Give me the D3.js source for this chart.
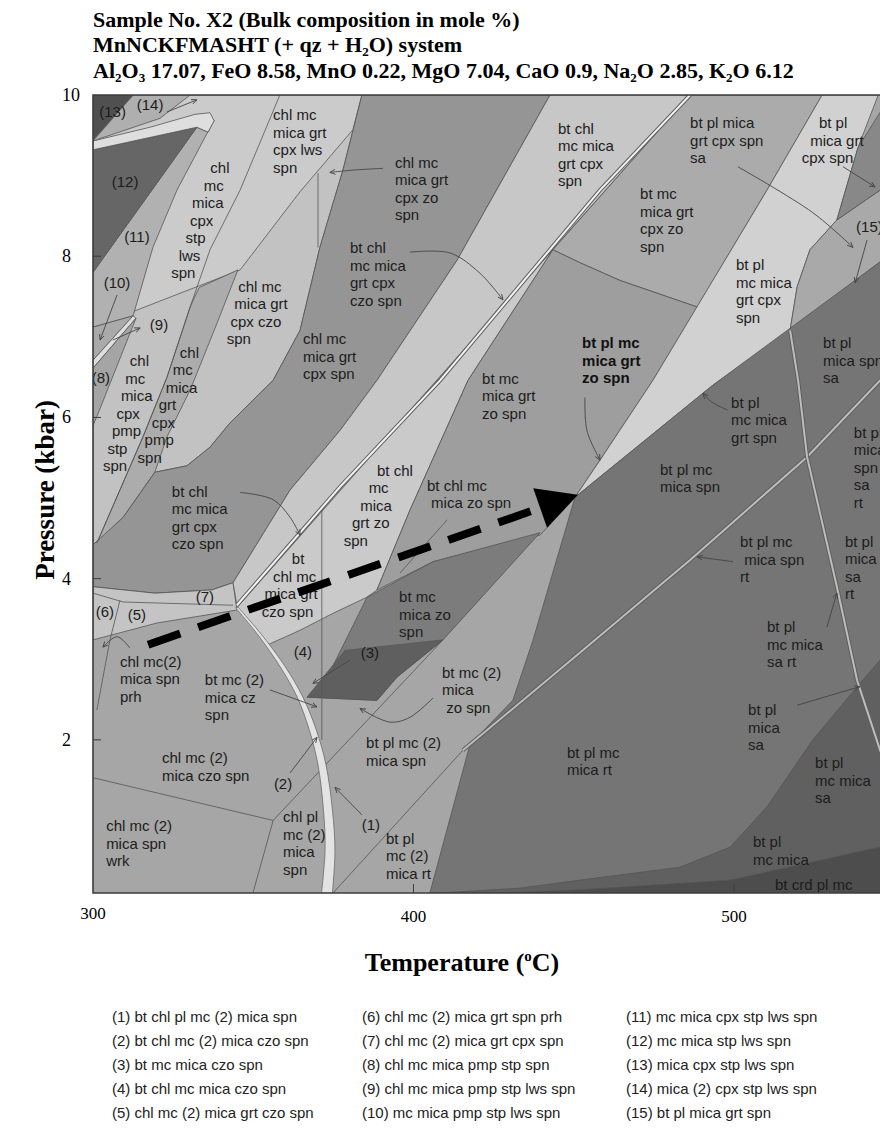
<!DOCTYPE html>
<html>
<head>
<meta charset="utf-8">
<script src="https://cdn.jsdelivr.net/npm/d3@7"></script>
<style>
  body { margin: 0; background: #fff; }
</style>
</head>
<body>
<div id="chart"></div>
<script>
// ---- data (temperature in °C, pressure in kbar) ----
const tempTicks = [300, 400, 500];
const pressTicks = [2, 4, 6, 8, 10];

// field polygons, painted in this order
const fieldPolys = [
  ["base", [[300,10],[550,10],[550,0.1],[300,0.1]]],
  ["leftLight", [[300,10],[383.9,10],[378.0,9.07],[370.8,8.11],[364.6,7.08],[356.2,6.46],[342.7,5.93],[336.5,5.63],[329.3,5.40],[319.3,5.32],[309.4,4.76],[300,4.42]]],
  ["upperLight", [[300,7.12],[345.9,7.83],[364.6,8.80],[381.1,9.57],[383.9,10],[300,10]]],
  ["pmpStrip", [[333.1,7.61],[345.2,7.83],[338.7,7.17],[330.3,6.34],[323.1,5.76],[319.3,5.32],[309.4,4.76],[301.2,4.44],[308.4,5.10],[315.6,5.76],[323.1,6.50],[330.3,7.37]]],
  ["f11", [[332.4,9.60],[335.9,9.54],[337.8,9.69],[326.2,8.82],[318.7,8.11],[312.5,7.26],[300,7.12],[300,7.80]]],
  ["f10", [[300,7.12],[312.5,7.26],[300,6.71]]],
  ["f9", [[300,6.71],[312.5,7.26],[313.4,7.23],[300,6.61]]],
  ["f8", [[300,6.61],[313.4,7.23],[301.2,6.01],[300,5.90]]],
  ["f12", [[300,9.32],[332.4,9.60],[300,7.80]]],
  ["wrap", [[300,9.43],[317.8,9.60],[331.8,9.76],[336.5,9.78],[337.8,9.68],[335.9,9.54],[332.4,9.60],[300,9.32]]],
  ["f14", [[312.5,10],[330.3,10],[320.9,9.71],[300,9.43]]],
  ["f13", [[300,10],[312.5,10],[300,9.44]]],
  ["darkBand", [[300,4.42],[309.4,4.76],[319.3,5.32],[329.3,5.40],[336.5,5.63],[342.7,5.93],[356.2,6.46],[364.6,7.08],[370.8,8.11],[378.0,9.07],[383.9,10],[442.6,10],[413.6,7.95],[388.6,6.46],[377.1,5.84],[361.5,5.10],[343.7,3.95],[337.1,3.86],[319.3,3.82],[300,3.90]]],
  ["strip56", [[300,3.90],[319.3,3.82],[337.1,3.86],[343.7,3.95],[344.9,3.61],[320.0,3.45],[300,3.24]]],
  ["lightBand", [[442.6,10],[486.3,10],[344.9,3.67],[343.7,3.95],[361.5,5.10],[377.1,5.84],[388.6,6.46],[413.6,7.95]]],
  ["wedge", [[443.5,8.08],[417.0,6.46],[398.9,4.85],[388.6,3.86],[385.5,3.77],[374.9,3.57],[364.6,3.36],[354.6,3.18],[344.9,3.64]]],
  ["cpxZo", [[486.3,10],[527.5,10],[510.3,8.82],[488.5,7.37],[464.4,7.70],[451.9,7.92],[443.5,8.08]]],
  ["grtZo", [[443.5,8.08],[451.9,7.92],[464.4,7.70],[488.5,7.37],[474.7,6.46],[458.2,5.47],[450.4,5.01],[439.5,4.54],[406.1,4.21],[388.6,3.86],[398.9,4.85],[417.0,6.46]]],
  ["paleBand", [[527.5,10],[545.0,10],[538.7,9.35],[532.1,8.45],[523.7,8.08],[519.7,7.62],[517.5,7.08],[493.4,6.40],[450.4,5.01],[458.2,5.47],[474.7,6.46],[510.3,8.82]]],
  ["f15", [[532.1,8.45],[545.6,8.82],[550,8.87],[550,8.06],[545.6,7.93],[517.5,7.08],[519.7,7.62],[523.7,8.08]]],
  ["rightTop", [[547.1,9.88],[538.7,9.35],[532.1,8.45],[545.6,8.82],[550,8.87],[550,9.9]]],
  ["lowerRight", [[450.4,5.01],[493.4,6.40],[545.6,7.93],[550,8.06],[550,0.1],[405.1,0.1],[417.6,1.94],[431.0,2.49],[437.3,3.24]]],
  ["bottomDark", [[408.3,0.1],[433.2,0.16],[451.9,0.26],[483.1,0.42],[498.8,0.67],[510.3,1.17],[524.6,2.0],[539.3,2.70],[545.6,2.99],[550,3.1],[550,0.1]]],
  ["bottomDarkest", [[427.0,0.1],[451.9,0.14],[498.8,0.26],[545.6,0.67],[550,0.72],[550,0.1]]],
  ["zoDark", [[366.8,2.53],[373.9,2.84],[385.5,3.77],[406.1,4.21],[439.5,4.57],[409.2,3.24],[394.9,2.78],[388.6,2.49]]],
  ["f3", [[366.8,2.53],[378.6,3.11],[409.2,3.24],[394.9,2.78],[388.6,2.49]]]
];

// grey level of each field
const fieldShade = {
  base: "#a6a6a6", leftLight: "#c2c2c2", upperLight: "#cbcbcb", pmpStrip: "#acacac",
  f11: "#b1b1b1", f10: "#aaaaaa", f9: "#dedede", f8: "#a5a5a5",
  f12: "#666666", wrap: "#dedede", f14: "#afafaf", f13: "#505050",
  darkBand: "#959595", strip56: "#c4c4c4", lightBand: "#c7c7c7", wedge: "#cacaca",
  cpxZo: "#ababab", grtZo: "#9e9e9e", paleBand: "#d1d1d1", f15: "#a9a9a9", rightTop: "#888888",
  lowerRight: "#757575", bottomDark: "#606060", bottomDarkest: "#4d4d4d",
  zoDark: "#7c7c7c", f3: "#5f5f5f"
};

// extra thin boundaries
const thinLines = [
  [[371.4,4.85],[371.4,2.0]],
  [[370.2,9.03],[370.2,8.11]],
  [[358.3,10],[345.9,8.82],[336.5,8.08],[330.3,7.37],[323.1,6.50],[315.6,5.76],[308.4,5.10],[301.2,4.44]],
  [[300,1.53],[356.2,1.0],[409.2,3.24]],
  [[356.2,1.0],[349.9,0.1]],
  [[374.9,0.1],[415.4,1.87]],
  [[308.4,3.73],[305.3,3.24],[301.2,2.37]],
  [[300,3.82],[309.4,3.71],[343.7,3.67]],
  [[410.5,4.73],[395.8,4.07]]
];

// double reaction lines: bright one, then two paler ones
const whiteLines = [
  [[344.9,3.67],[377.1,5.14],[408.3,6.46],[458.2,8.82],[486.3,10]]
];
const paleLines = [
  [[415.4,1.87],[451.9,3.08],[486.3,4.23],[522.8,5.51],[545.6,6.46],[550,6.55]],
  [[517.5,7.08],[520.0,6.46],[522.8,5.51],[532.1,3.90],[538.4,2.74],[545.6,1.87],[550,1.45]]
];

// curved pale band: left edge then right edge
const arcLeft = [[344.5,3.64],[351.5,3.30],[358.5,2.90],[363.7,2.53],[367.5,2.12],[370.2,1.69],[371.9,1.13],[372.4,0.63],[371.3,0.1]];
const arcRight = [[345.4,3.64],[352.7,3.30],[360.1,2.90],[365.5,2.53],[369.7,2.12],[372.7,1.69],[374.7,1.13],[375.5,0.63],[374.7,0.1]];

// leader arrows from labels to small fields
const leaders = [
  [[307.5,7.52],[302.2,6.96]],
  [[306.2,6.96],[314.7,7.11]],
  [[390.5,9.09],[381.7,9.07],[373.9,9.04]],
  [[398.9,8.05],[411.4,8.04],[420.7,7.79],[427.9,7.46]],
  [[345.9,5.07],[356.2,4.98],[361.5,4.76],[364.6,4.54]],
  [[501.2,9.11],[524.6,8.54],[537.1,8.11]],
  [[534.0,9.11],[544.0,8.86]],
  [[541.5,8.20],[537.8,7.67]],
  [[453.5,6.25],[454.1,5.84],[458.2,5.47]],
  [[498.1,6.09],[493.1,6.19],[490.3,6.30]],
  [[499.7,4.21],[488.5,4.27]],
  [[529.0,3.40],[532.1,3.82]],
  [[406.1,2.52],[398.9,2.28],[392.7,2.22],[383.3,2.39]],
  [[383.9,1.07],[375.5,1.41]],
  [[361.5,1.59],[369.9,2.03]],
  [[355.2,2.62],[369.9,2.41]],
  [[380.2,2.99],[368.6,2.70]],
  [[311.5,3.14],[307.5,3.28],[303.1,3.15]],
  [[519.7,2.43],[539.3,2.66]],
  [[323.1,9.79],[332.4,9.94]]
];

// P-T path (start, tip)
const ptPath = [[317.2,3.18],[451.3,5.04]];

// field labels: T, P of first line, lines, anchor, shift per line (°C)
const fieldLabels = [
  [306.1,9.79,["(13)"],"middle",0],
  [317.8,9.88,["(14)"],"middle",0],
  [310.0,8.92,["(12)"],"middle",0],
  [313.7,8.24,["(11)"],"middle",0],
  [307.5,7.67,["(10)"],"middle",0],
  [320.6,7.15,["(9)"],"middle",0],
  [339.6,9.09,["chl","mc","mica","cpx","stp","lws","spn"],"middle",-1.9],
  [356.2,9.75,["chl mc","mica grt","cpx lws","spn"],"start",0],
  [345.3,7.62,["chl mc","mica grt","cpx czo","spn"],"start",-1.2],
  [327.1,6.80,["chl","mc","mica","grt","cpx","pmp","spn"],"start",-2.2],
  [311.5,6.70,["chl","mc","mica","cpx","pmp","stp","spn"],"start",-1.4],
  [299.6,6.49,["(8)"],"start",0],
  [324.6,5.08,["bt chl","mc mica","grt cpx","czo spn"],"start",0],
  [364.0,4.24,["bt","chl mc","mica grt","czo spn"],"middle",-1.1],
  [334.9,3.77,["(7)"],"middle",0],
  [303.7,3.58,["(6)"],"middle",0],
  [313.7,3.55,["(5)"],"middle",0],
  [308.4,2.97,["chl mc(2)","mica spn","prh"],"start",0],
  [334.9,2.74,["bt mc (2)","mica cz","spn"],"start",0],
  [365.5,3.09,["(4)"],"middle",0],
  [321.5,1.77,["chl mc (2)","mica czo spn"],"start",0],
  [359.3,1.45,["(2)"],"middle",0],
  [304.1,0.93,["chl mc (2)","mica spn","wrk"],"start",0],
  [359.3,1.04,["chl pl","mc (2)","mica","spn"],"start",0],
  [394.2,9.16,["chl mc","mica grt","cpx zo","spn"],"start",0],
  [380.2,8.10,["bt chl","mc mica","grt cpx","czo spn"],"start",0],
  [445.1,9.58,["bt chl","mc mica","grt cpx","spn"],"start",0],
  [365.5,6.97,["chl mc","mica grt","cpx spn"],"start",0],
  [486.3,9.65,["bt pl mica","grt cpx spn","sa"],"start",0],
  [526.5,9.65,["bt pl","mica grt","cpx spn"],"start",-2.7],
  [470.7,8.77,["bt mc","mica grt","cpx zo","spn"],"start",0],
  [538.1,8.36,["(15)"],"start",0],
  [500.6,7.89,["bt pl","mc mica","grt cpx","spn"],"start",0],
  [527.8,6.92,["bt pl","mica spn","sa"],"start",0],
  [421.4,6.48,["bt mc","mica grt","zo spn"],"start",0],
  [388.6,5.34,["bt chl","mc","mica","grt zo","spn"],"start",-2.6],
  [404.2,5.15,["bt chl mc"," mica zo spn"],"start",0],
  [395.5,3.77,["bt mc","mica zo","spn"],"start",0],
  [386.4,3.08,["(3)"],"middle",0],
  [499.1,6.18,["bt pl","mc mica","grt spn"],"start",0],
  [476.9,5.35,["bt pl mc","mica spn"],"start",0],
  [537.4,5.81,["bt pl","mica","spn","sa","rt"],"start",0],
  [501.9,4.45,["bt pl mc"," mica spn","rt"],"start",0],
  [534.6,4.46,["bt pl","mica","sa","rt"],"start",0],
  [510.3,3.40,["bt pl","mc mica","sa rt"],"start",0],
  [408.9,2.83,["bt mc (2)","mica"," zo spn"],"start",0],
  [385.2,1.96,["bt pl mc (2)","mica spn"],"start",0],
  [386.7,0.94,["(1)"],"middle",0],
  [391.4,0.77,["bt pl","mc (2)","mica rt"],"start",0],
  [447.9,1.84,["bt pl mc","mica rt"],"start",0],
  [504.4,2.37,["bt pl","mica","sa"],"start",0],
  [525.3,1.71,["bt pl","mc mica","sa"],"start",0],
  [505.9,0.73,["bt pl","mc mica"],"start",0],
  [512.8,0.20,["bt crd pl mc"],"start",0]
];
const boldLabel = ["bt pl mc", "mica grt", "zo spn"];
const boldLabelAt = [452.6, 6.92];

const legendItems = [
  "(1) bt chl pl mc (2) mica spn", "(2) bt chl mc (2) mica czo spn", "(3) bt mc mica czo spn",
  "(4) bt chl mc mica czo spn", "(5) chl mc (2) mica grt czo spn",
  "(6) chl mc (2) mica grt spn prh", "(7) chl mc (2) mica grt cpx spn", "(8) chl mc mica pmp stp spn",
  "(9) chl mc mica pmp stp lws spn", "(10) mc mica pmp stp lws spn",
  "(11) mc mica cpx stp lws spn", "(12) mc mica stp lws spn", "(13) mica cpx stp lws spn",
  "(14) mica (2) cpx stp lws spn", "(15) bt pl mica grt spn"
];

// ---- drawing ----
const W = 880, H = 1139;
const sans = "'Liberation Sans', Arial, sans-serif";
const serif = "'Liberation Serif', 'Times New Roman', serif";
const svg = d3.select("#chart").append("svg").attr("width", W).attr("height", H);

const x = d3.scaleLinear().domain([300, 550]).range([93, 894.25]);
const y = d3.scaleLinear().domain([0.1, 10]).range([893, 95]);

const defs = svg.append("defs");
defs.append("clipPath").attr("id", "plotClip")
  .append("rect").attr("x", x(300)).attr("y", y(10))
  .attr("width", x(550) - x(300)).attr("height", y(0.1) - y(10));

const marker = defs.append("marker")
  .attr("id", "tip").attr("viewBox", "0 0 8 8").attr("refX", 7).attr("refY", 4)
  .attr("markerWidth", 7).attr("markerHeight", 7).attr("orient", "auto");
marker.append("path").attr("d", "M0,0.8 L7,4 L0,7.2").attr("fill", "none")
  .attr("stroke", "#444").attr("stroke-width", 1.1);

const plot = svg.append("g").attr("clip-path", "url(#plotClip)");
const line = d3.line().x(d => x(d[0])).y(d => y(d[1]));
const curve = d3.line().x(d => x(d[0])).y(d => y(d[1])).curve(d3.curveCatmullRom);

// fields
plot.selectAll("path.field")
  .data(fieldPolys)
  .enter().append("path")
  .attr("class", "field")
  .attr("d", d => line(d[1]) + "Z")
  .attr("fill", d => fieldShade[d[0]])
  .attr("stroke", d => d[0] === "base" ? "none" : "#555")
  .attr("stroke-width", 0.8);

// thin boundaries
plot.selectAll("path.thin")
  .data(thinLines)
  .enter().append("path")
  .attr("d", d => line(d))
  .attr("fill", "none").attr("stroke", "#555").attr("stroke-width", 0.8);

// curved pale band
plot.append("path")
  .attr("d", curve(arcLeft) + "L" + curve(arcRight.slice().reverse()).slice(1) + "Z")
  .attr("fill", "#e3e3e3").attr("stroke", "#6a6a6a").attr("stroke-width", 0.8);

// double lines
function doubleLine(l, inner, w) {
  plot.append("path").attr("d", line(l)).attr("fill", "none")
    .attr("stroke", "#5e5e5e").attr("stroke-width", w + 2);
  plot.append("path").attr("d", line(l)).attr("fill", "none")
    .attr("stroke", inner).attr("stroke-width", w);
}
whiteLines.forEach(l => doubleLine(l, "#f2f2f2", 2));
paleLines.forEach(l => doubleLine(l, "#bdbdbd", 2));

// leader arrows
plot.selectAll("path.leader")
  .data(leaders)
  .enter().append("path")
  .attr("d", d => curve(d))
  .attr("fill", "none").attr("stroke", "#444").attr("stroke-width", 0.9)
  .attr("marker-end", "url(#tip)");

// labels
const lh = 17.5;
fieldLabels.forEach(([t, p, lines, anchor, shift]) => {
  const txt = plot.append("text")
    .attr("font-family", sans)
    .attr("font-size", 15).attr("fill", "#1c1c1c").attr("text-anchor", anchor)
    .attr("xml:space", "preserve");
  lines.forEach((s, i) => {
    txt.append("tspan")
      .attr("x", x(t + shift * i))
      .attr("y", y(p) + 5 + i * lh)
      .text(s);
  });
});
const bl = plot.append("text").attr("font-family", sans).attr("font-size", 15)
  .attr("font-weight", "bold").attr("fill", "#111");
boldLabel.forEach((s, i) => {
  bl.append("tspan").attr("x", x(boldLabelAt[0])).attr("y", y(boldLabelAt[1]) + 5 + i * lh).text(s);
});

// dashed P-T path with arrowhead
const p0 = [x(ptPath[0][0]), y(ptPath[0][1])];
const p1 = [x(ptPath[1][0]), y(ptPath[1][1])];
const ang = Math.atan2(p1[1] - p0[1], p1[0] - p0[0]);
const headLen = 40, headHalf = 21;
const hb = [p1[0] - headLen * Math.cos(ang), p1[1] - headLen * Math.sin(ang)];
plot.append("line")
  .attr("x1", p0[0]).attr("y1", p0[1]).attr("x2", hb[0] + 6 * Math.cos(ang)).attr("y2", hb[1] + 6 * Math.sin(ang))
  .attr("stroke", "#000").attr("stroke-width", 8).attr("stroke-dasharray", "34,19");
plot.append("path")
  .attr("d", `M${p1[0]},${p1[1]}L${hb[0] - headHalf * Math.sin(ang)},${hb[1] + headHalf * Math.cos(ang)}L${hb[0] + headHalf * Math.sin(ang)},${hb[1] - headHalf * Math.cos(ang)}Z`)
  .attr("fill", "#000");

// frame and inner ticks
const fr = svg.append("g").attr("stroke", "#3c3c3c").attr("fill", "none");
fr.append("path").attr("d", `M${x(550)},${y(10)}H${x(300)}V${y(0.1)}H${x(550)}`).attr("stroke-width", 1.6);
pressTicks.slice(0, 4).forEach(p => {
  fr.append("line").attr("x1", x(300)).attr("x2", x(300) + 8).attr("y1", y(p)).attr("y2", y(p)).attr("stroke-width", 1);
});
tempTicks.slice(1).forEach(t => {
  fr.append("line").attr("x1", x(t)).attr("x2", x(t)).attr("y1", y(0.1)).attr("y2", y(0.1) - 9).attr("stroke-width", 1);
});

// tick labels
svg.selectAll("text.py").data(pressTicks).enter().append("text")
  .attr("x", 62).attr("y", d => y(d) + 6)
  .attr("font-family", serif).attr("font-size", 18).text(d => d);
svg.selectAll("text.tx").data(tempTicks).enter().append("text")
  .attr("x", d => x(d)).attr("y", (d, i) => i === 0 ? 919 : 922)
  .attr("text-anchor", "middle").attr("font-family", serif).attr("font-size", 17).text(d => d);

// axis titles
const tt = svg.append("text").attr("x", 462).attr("y", 971).attr("text-anchor", "middle")
  .attr("font-family", serif).attr("font-weight", "bold").attr("font-size", 26);
tt.append("tspan").text("Temperature (");
tt.append("tspan").attr("font-size", 15).attr("dy", -10).text("o");
tt.append("tspan").attr("dy", 10).text("C)");
svg.append("text").attr("transform", "translate(54,490) rotate(-90)")
  .attr("text-anchor", "middle").attr("font-family", serif).attr("font-weight", "bold")
  .attr("font-size", 27).text("Pressure (kbar)");

// title block
const title = svg.append("g").attr("font-family", serif).attr("font-weight", "bold").attr("font-size", 22);
title.append("text").attr("x", 93).attr("y", 27).text("Sample No. X2 (Bulk composition in mole %)");
const t2 = title.append("text").attr("x", 93).attr("y", 52);
t2.append("tspan").text("MnNCKFMASHT (+ qz + H");
t2.append("tspan").attr("font-size", 13).attr("dy", 4).text("2");
t2.append("tspan").attr("dy", -4).text("O) system");
const t3 = title.append("text").attr("x", 93).attr("y", 78);
[["Al", 0], ["2", 1], ["O", 0], ["3", 1], [" 17.07, FeO 8.58, MnO 0.22, MgO 7.04, CaO 0.9, Na", 0], ["2", 1],
 ["O 2.85, K", 0], ["2", 1], ["O 6.12", 0]].forEach(([s, sub], i, arr) => {
  const prevSub = i > 0 && arr[i - 1][1] === 1;
  t3.append("tspan").attr("font-size", sub ? 13 : 22)
    .attr("dy", sub ? 4 : (prevSub ? -4 : 0)).text(s);
});

// legend
const legend = svg.append("g").attr("font-family", sans).attr("font-size", 15).attr("fill", "#222");
const colX = [112, 362, 626];
legendItems.forEach((s, i) => {
  legend.append("text").attr("x", colX[Math.floor(i / 5)]).attr("y", 1022 + (i % 5) * 24).text(s);
});
</script>
</body>
</html>
